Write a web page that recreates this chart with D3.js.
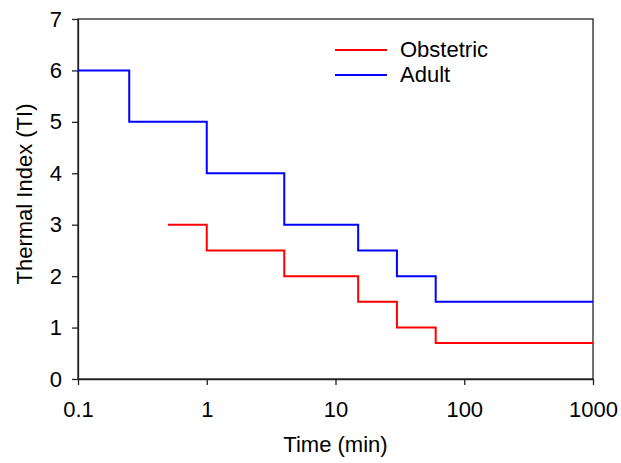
<!DOCTYPE html>
<html>
<head>
<meta charset="utf-8">
<script src="https://cdn.jsdelivr.net/npm/d3@7"></script>
<style>
  body { margin: 0; background: #fff; }
  text { font-family: "Liberation Sans", Arial, sans-serif; fill: #000; }
</style>
</head>
<body>
<div id="chart"></div>
<script>
// step levels: value holds from time[i] up to the next time
var adultTime = [0.1, 0.25, 1, 4, 15, 30, 60, 1000];
var adultTI   = [6, 5, 4, 3, 2.5, 2, 1.5, 1.5];
var obstTime  = [0.5, 1, 4, 15, 30, 60, 1000];
var obstTI    = [3, 2.5, 2, 1.5, 1, 0.7, 0.7];
var xTicks = [0.1, 1, 10, 100, 1000];
var yTicks = [0, 1, 2, 3, 4, 5, 6, 7];
var seriesNames = ["Obstetric", "Adult"];
var seriesColors = ["#ff0000", "#0000ff"];

var width = 621, height = 463;
var margin = {top: 19, right: 28, bottom: 84, left: 78};
var fontSize = "22px";

var svg = d3.select("#chart").append("svg")
    .attr("width", width)
    .attr("height", height);

var x = d3.scaleLog()
    .domain([0.1, 1000])
    .range([margin.left, width - margin.right]);

var y = d3.scaleLinear()
    .domain([0, 7])
    .range([height - margin.bottom, margin.top]);

// frame
svg.append("rect")
    .attr("x", x(0.1))
    .attr("y", y(7))
    .attr("width", x(1000) - x(0.1))
    .attr("height", y(0) - y(7))
    .style("fill", "none")
    .style("stroke", "#222")
    .style("stroke-width", 1.3);

var xAxis = svg.append("g")
    .attr("transform", "translate(0," + y(0) + ")")
    .call(d3.axisBottom(x).tickValues(xTicks).tickFormat(function(d) { return d; })
        .tickSizeInner(6).tickSizeOuter(0).tickPadding(16));

var yAxis = svg.append("g")
    .attr("transform", "translate(" + x(0.1) + ",0)")
    .call(d3.axisLeft(y).tickValues(yTicks).tickFormat(d3.format("d"))
        .tickSizeInner(6).tickSizeOuter(0).tickPadding(10));

[xAxis, yAxis].forEach(function(a) {
    a.select(".domain").style("stroke", "#222").style("stroke-width", 1.3);
    a.selectAll(".tick line").style("stroke", "#222").style("stroke-width", 1.3);
    a.selectAll(".tick text")
        .style("font-family", "'Liberation Sans', Arial, sans-serif")
        .style("font-size", fontSize)
        .style("fill", "#000");
});

// axis titles
svg.append("text")
    .attr("x", (x(0.1) + x(1000)) / 2)
    .attr("y", 452)
    .attr("text-anchor", "middle")
    .style("font-size", fontSize)
    .text("Time (min)");

svg.append("text")
    .attr("transform", "translate(32," + 194 + ") rotate(-90)")
    .attr("text-anchor", "middle")
    .style("font-size", fontSize)
    .text("Thermal Index (TI)");

// step lines
var line = d3.line()
    .x(function(d) { return x(d.t); })
    .y(function(d) { return y(d.v); })
    .curve(d3.curveStepAfter);

function toPoints(times, vals) {
    return times.map(function(t, i) { return {t: t, v: vals[i]}; });
}

var series = [toPoints(obstTime, obstTI), toPoints(adultTime, adultTI)];

svg.selectAll(".series")
    .data(series)
    .enter().append("path")
    .attr("class", "series")
    .attr("d", line)
    .style("fill", "none")
    .style("stroke", function(d, i) { return seriesColors[i]; })
    .style("stroke-width", 2);

// legend
var legend = svg.selectAll(".legend")
    .data(seriesNames)
    .enter().append("g")
    .attr("class", "legend")
    .attr("transform", function(d, i) { return "translate(335," + (50 + i * 25) + ")"; });

legend.append("line")
    .attr("x1", 0).attr("x2", 52)
    .attr("y1", 0).attr("y2", 0)
    .style("stroke", function(d, i) { return seriesColors[i]; })
    .style("stroke-width", 2);

legend.append("text")
    .attr("x", 65)
    .attr("y", 7)
    .style("font-size", fontSize)
    .text(function(d) { return d; });
</script>
</body>
</html>
